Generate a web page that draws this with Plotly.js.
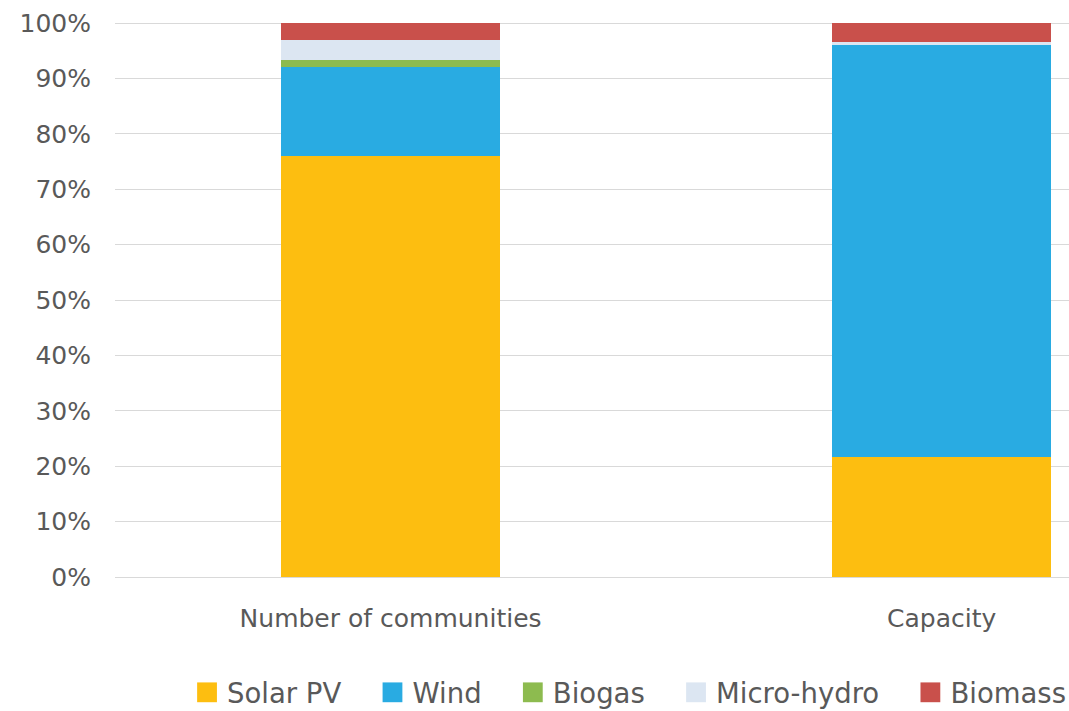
<!DOCTYPE html>
<html>
<head>
<meta charset="utf-8">
<script src="https://cdn.plot.ly/plotly-3.0.1.min.js"></script>
<style>
html,body{margin:0;padding:0;background:#fff;}
#chart{width:1069px;height:711px;}
#chart .legendpoints path{transform:translate(20px,0px) scale(1.65);}
</style>
</head>
<body>
<div id="chart"></div>
<script>
const categories = ["Number of communities", "Capacity"];
const seriesNames = ["Solar PV", "Wind", "Biogas", "Micro-hydro", "Biomass"];
const solarPV   = [76.0, 21.7];
const wind      = [16.1, 74.3];
const biogas    = [1.3, 0.1];
const microHydro= [3.5, 0.4];
const biomass   = [3.1, 3.5];
const colors = ["#FDBE10", "#29ABE2", "#8DBB4F", "#DCE6F2", "#C9504B"];

const seriesValues = [solarPV, wind, biogas, microHydro, biomass];
const pad = "\u00A0\u00A0\u00A0";
const traces = seriesNames.map((name, i) => ({
  type: "bar",
  name: i < seriesNames.length - 1 ? name + pad : name,
  x: categories,
  y: seriesValues[i],
  width: 0.397,
  marker: {color: colors[i], line: {width: 0}},
  hoverinfo: "name+y"
}));

const font = {family: "DejaVu Sans", size: 25, color: "#595959"};
const legendFont = {family: "DejaVu Sans", size: 27.5, color: "#595959"};
const layout = {
  width: 1069, height: 711,
  margin: {l: 115, r: 0, t: 22, b: 134, autoexpand: false},
  paper_bgcolor: "#fff", plot_bgcolor: "#fff",
  barmode: "stack",
  font: font,
  showlegend: true,
  xaxis: {
    type: "category",
    range: [-0.5, 1.231],
    showgrid: false, zeroline: false, showline: false,
    ticks: "", ticklabelstandoff: 24,
    tickfont: font
  },
  yaxis: {
    range: [0, 100.2],
    dtick: 10, tick0: 0,
    ticksuffix: "%",
    showgrid: true, gridcolor: "#D9D9D9", gridwidth: 1,
    zeroline: true, zerolinecolor: "#D9D9D9", zerolinewidth: 1,
    showline: false, ticks: "", ticklabelstandoff: 23,
    tickfont: font
  },
  legend: {
    orientation: "h",
    x: 0.0755, xanchor: "left",
    y: -0.208, yanchor: "middle",
    font: legendFont,
    traceorder: "normal",
    itemclick: false
  }
};

Plotly.newPlot("chart", traces, layout, {displayModeBar: false, staticPlot: true});
</script>
</body>
</html>
